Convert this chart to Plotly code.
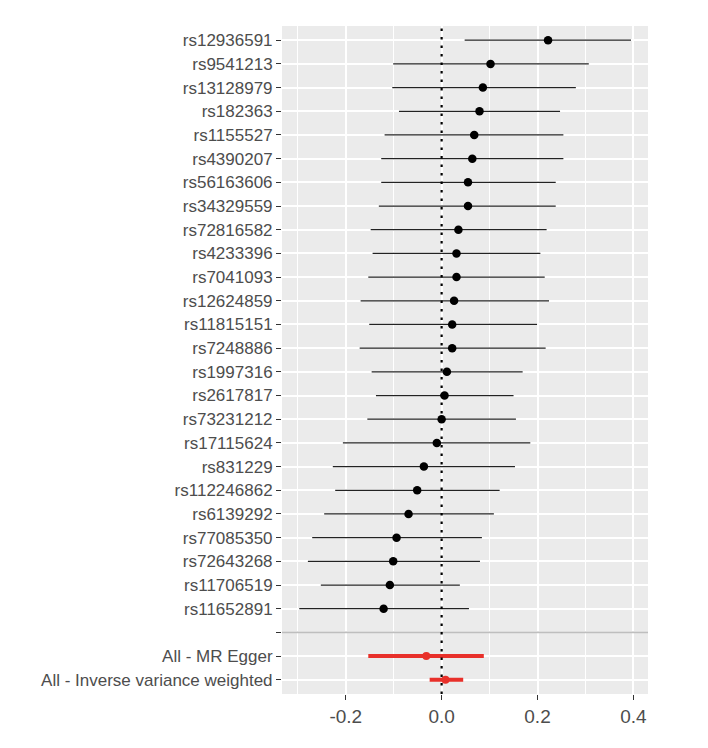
import plotly.graph_objects as go

snps = ["rs12936591", "rs9541213", "rs13128979", "rs182363", "rs1155527", "rs4390207",
        "rs56163606", "rs34329559", "rs72816582", "rs4233396", "rs7041093", "rs12624859",
        "rs11815151", "rs7248886", "rs1997316", "rs2617817", "rs73231212", "rs17115624",
        "rs831229", "rs112246862", "rs6139292", "rs77085350", "rs72643268", "rs11706519",
        "rs11652891"]
snp_b = [0.222, 0.102, 0.086, 0.079, 0.068, 0.064, 0.055, 0.055, 0.035, 0.031, 0.031, 0.026,
         0.022, 0.022, 0.011, 0.006, 0.000, -0.010, -0.037, -0.051, -0.069, -0.094, -0.101,
         -0.108, -0.121]
snp_lo = [0.048, -0.101, -0.103, -0.089, -0.119, -0.126, -0.126, -0.131, -0.148, -0.144, -0.153,
          -0.169, -0.151, -0.171, -0.146, -0.137, -0.155, -0.206, -0.227, -0.222, -0.245, -0.270,
          -0.279, -0.252, -0.297]
snp_hi = [0.395, 0.307, 0.280, 0.247, 0.254, 0.254, 0.238, 0.238, 0.219, 0.206, 0.215, 0.224,
          0.199, 0.217, 0.169, 0.150, 0.155, 0.185, 0.153, 0.121, 0.109, 0.084, 0.080, 0.038,
          0.057]

methods = ["All - MR Egger", "All - Inverse variance weighted"]
mr_b = [-0.032, 0.008]
mr_lo = [-0.153, -0.025]
mr_hi = [0.088, 0.045]

x_ticks = [-0.2, 0.0, 0.2, 0.4]
x_tick_labels = ["-0.2", "0.0", "0.2", "0.4"]
x_minor = [-0.3, -0.1, 0.1, 0.3]

labels = snps + [""] + methods
n = len(labels)
ypos = [n - 1 - i for i in range(n)]
snp_y = ypos[:len(snps)]
blank_y = ypos[len(snps)]
mr_y = ypos[len(snps) + 1:]

fig = go.Figure()

fig.add_trace(go.Scatter(
    x=snp_b, y=snp_y, mode="markers",
    marker=dict(color="black", size=8.5),
    error_x=dict(type="data", symmetric=False,
                 array=[h - b for h, b in zip(snp_hi, snp_b)],
                 arrayminus=[b - l for b, l in zip(snp_b, snp_lo)],
                 color="#222222", thickness=1.3, width=0),
    showlegend=False, hoverinfo="skip"))

fig.add_trace(go.Scatter(
    x=mr_b, y=mr_y, mode="markers",
    marker=dict(color="#E8302A", size=8),
    error_x=dict(type="data", symmetric=False,
                 array=[h - b for h, b in zip(mr_hi, mr_b)],
                 arrayminus=[b - l for b, l in zip(mr_b, mr_lo)],
                 color="#E8302A", thickness=4, width=0),
    showlegend=False, hoverinfo="skip"))

# grey separator line
fig.add_hline(y=blank_y, line=dict(color="#BEBEBE", width=1.6), layer="above")
# dotted zero line
fig.add_vline(x=0, line=dict(color="black", width=2.2, dash="2.5px,6px"), layer="above")

fig.update_layout(
    width=708, height=748,
    margin=dict(l=282, r=60, t=26, b=54),
    paper_bgcolor="white", plot_bgcolor="#EBEBEB",
    font=dict(family="Liberation Sans, Arial, sans-serif", color="#4D4D4D"),
    xaxis=dict(range=[-0.333, 0.4305], tickvals=x_ticks, ticktext=x_tick_labels,
               showgrid=True, gridcolor="white", gridwidth=1.6, zeroline=False,
               ticks="outside", ticklen=5, tickwidth=1.3, tickcolor="#333333",
               tickfont=dict(size=19, color="#4D4D4D"),
               minor=dict(tickvals=x_minor, showgrid=True, gridcolor="white",
                          gridwidth=0.8, ticks="")),
    yaxis=dict(range=[-0.6, n - 1 + 0.6], tickvals=ypos, ticktext=labels,
               showgrid=True, gridcolor="white", gridwidth=1.6, zeroline=False,
               ticks="outside", ticklen=5, tickwidth=1.3, tickcolor="#333333",
               tickfont=dict(size=17, color="#4D4D4D")),
)

fig.write_html("out.html")
